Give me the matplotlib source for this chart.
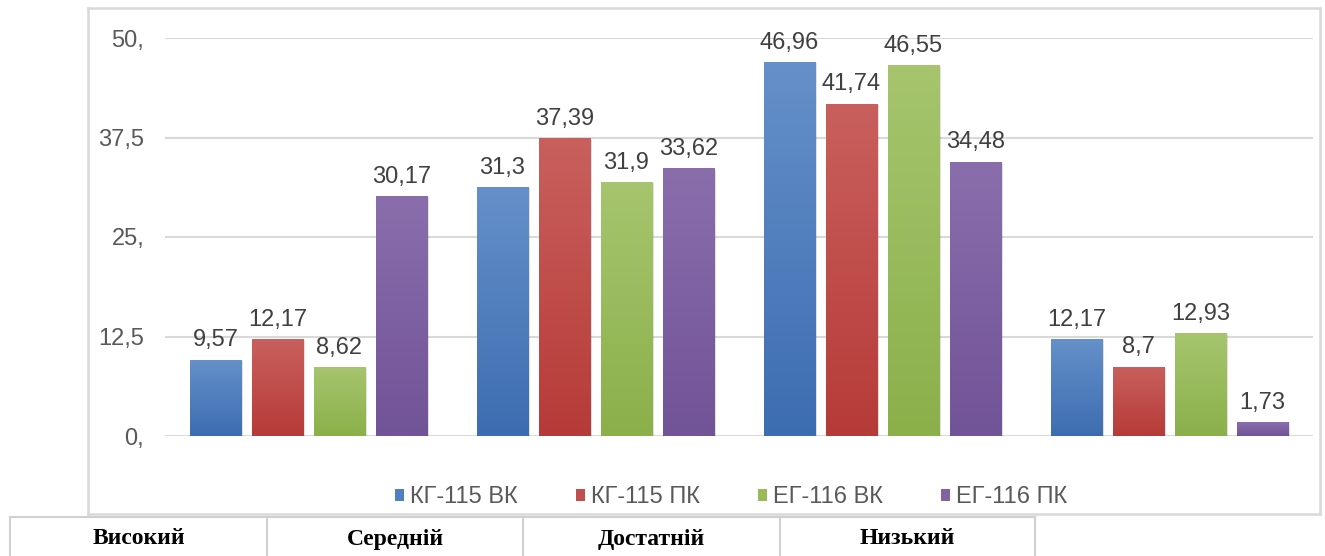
import matplotlib
matplotlib.use("Agg")
import matplotlib.pyplot as plt
import numpy as np
from matplotlib.lines import Line2D
from matplotlib.patches import Patch, Rectangle
from matplotlib.colors import LinearSegmentedColormap

categories = ["Високий", "Середній", "Достатній", "Низький"]
series_names = ["КГ-115 ВК", "КГ-115 ПК", "ЕГ-116 ВК", "ЕГ-116 ПК"]
kg115_vk = [9.57, 31.3, 46.96, 12.17]
kg115_pk = [12.17, 37.39, 41.74, 8.7]
eg116_vk = [8.62, 31.9, 46.55, 12.93]
eg116_pk = [30.17, 33.62, 34.48, 1.73]
yticks = [0, 12.5, 25, 37.5, 50]
ytick_labels = ["0,", "12,5", "25,", "37,5", "50,"]

series = [kg115_vk, kg115_pk, eg116_vk, eg116_pk]
base_colors = ["#4F81BD", "#C0504D", "#9BBB59", "#8064A2"]
grad = [("#6590C9", "#3D6DB1"), ("#C9605D", "#B63B38"),
        ("#A6C56E", "#8BB04A"), ("#8A6EAC", "#715397")]

W, H = 1325, 556
fig = plt.figure(figsize=(W / 100, H / 100), dpi=100)
plt.rcParams['font.family'] = ['Liberation Sans', 'DejaVu Sans']

ax = fig.add_axes([165 / W, (H - 436) / H, (1313 - 165) / W, 398 / H])
ax.set_xlim(-0.5, 3.5)
ax.set_ylim(0, 50)
for s in ax.spines.values():
    s.set_visible(False)
ax.set_yticks(yticks)
ax.set_yticklabels(ytick_labels, fontsize=17, color="#595959")
ax.tick_params(axis='y', length=0, pad=15)
ax.set_xticks([])
ax.yaxis.grid(True, color="#D9D9D9", linewidth=1.5, zorder=0)
ax.set_axisbelow(True)

x = np.arange(len(categories))
pitch = 0.216
width = 0.178
offsets = (np.arange(4) - 1.5) * pitch
grad_img = np.linspace(0, 1, 256).reshape(-1, 1)
for i, vals in enumerate(series):
    bars = ax.bar(x + offsets[i], vals, width, color=base_colors[i], zorder=3,
                  linewidth=0)
    cmap = LinearSegmentedColormap.from_list("g%d" % i, [grad[i][1], grad[i][0]])
    for b, v in zip(bars, vals):
        bx, by = b.get_x(), b.get_y()
        bw, bh = b.get_width(), b.get_height()
        # soft shadow
        sh = Rectangle((bx + 0.006, by), bw, bh - 0.15, facecolor="#000000",
                       alpha=0.12, zorder=2, linewidth=0)
        ax.add_patch(sh)
        im = ax.imshow(grad_img, cmap=cmap, aspect='auto', origin='lower',
                       extent=[bx, bx + bw, by, by + bh], zorder=3.5,
                       interpolation='bilinear')
        im.set_clip_path(b)
        ax.annotate(f"{v:g}".replace('.', ','), (bx + bw / 2, v),
                    xytext=(0, 6), textcoords='offset points', ha='center',
                    va='bottom', fontsize=17, color="#404040", zorder=5)
ax.set_xlim(-0.5, 3.5)
ax.set_ylim(0, 50)

handles = [Patch(facecolor=c, edgecolor='none') for c in base_colors]
fig.legend(handles, series_names, loc='center', bbox_to_anchor=(731 / W, 1 - 497 / H),
           ncol=4, frameon=False, fontsize=17, handlelength=0.4, handleheight=0.4,
           handletextpad=0.25, columnspacing=2.45, labelcolor="#595959")

# outer chart frame
fx0, fx1, fy0, fy1 = 88, 1320, 8, 514
for (xa, xb, ya, yb) in [(fx0, fx1, fy0, fy0), (fx0, fx1, fy1, fy1),
                         (fx0, fx0, fy0, fy1), (fx1, fx1, fy0, fy1)]:
    fig.add_artist(Line2D([xa / W, xb / W], [1 - ya / H, 1 - yb / H],
                          color="#D9D9D9", linewidth=1.8))

# table row below
cell_edges = [10, 267, 523, 780, 1035]
ty = 517
fig.add_artist(Line2D([cell_edges[0] / W, cell_edges[-1] / W], [1 - ty / H, 1 - ty / H],
                      color="#D0D0D0", linewidth=1.5))
for ex in cell_edges:
    fig.add_artist(Line2D([ex / W, ex / W], [1 - ty / H, 0], color="#D0D0D0", linewidth=1.5))
for i, c in enumerate(categories):
    cx = (cell_edges[i] + cell_edges[i + 1]) / 2
    fig.text(cx / W, 1 - 539 / H, c, ha='center', va='center', fontsize=17,
             fontweight='bold', family=['Liberation Serif', 'DejaVu Serif'], color="black")

fig.savefig("out.png", dpi=100)
